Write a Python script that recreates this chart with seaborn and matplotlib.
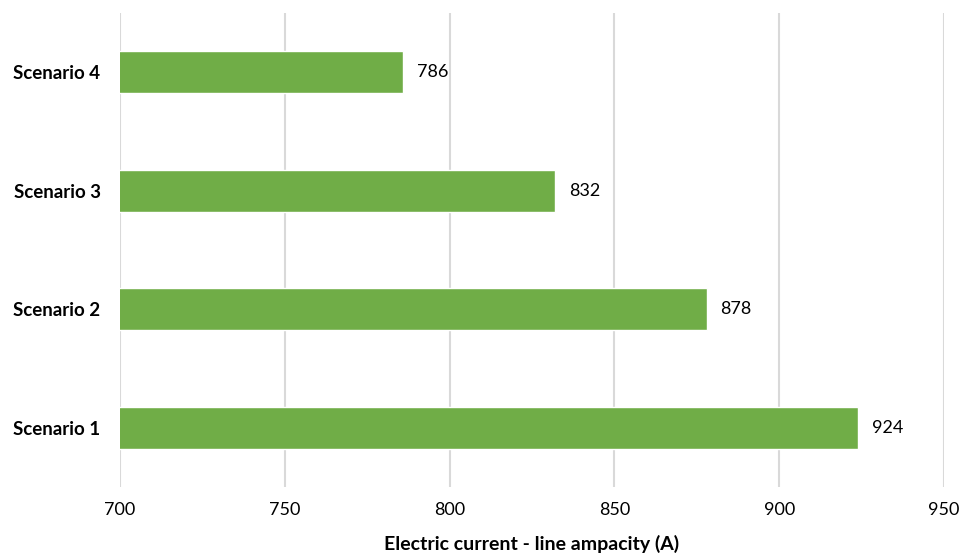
import matplotlib
matplotlib.use("Agg")
import matplotlib.pyplot as plt
import seaborn as sns
import pandas as pd

scenarios = ["Scenario 4", "Scenario 3", "Scenario 2", "Scenario 1"]
ampacity = [786, 832, 878, 924]
x_ticks = [700, 750, 800, 850, 900, 950]

sns.set_theme(style="white")
plt.rcParams["font.family"] = ["Lato", "DejaVu Sans"]

df = pd.DataFrame({"scenario": scenarios, "ampacity": ampacity})

fig = plt.figure(figsize=(9.6, 5.57), dpi=100)
ax = fig.add_axes([0.125, 0.1257, 0.8583, 0.851])

sns.barplot(data=df, x="ampacity", y="scenario", order=scenarios,
            orient="h", color="#70AD47", saturation=1, width=0.355, ax=ax,
            zorder=3)

ax.set_xlim(700, 950)
ax.set_xticks(x_ticks)
ax.set_xticklabels([str(t) for t in x_ticks], fontsize=13, color="#000000")
ax.grid(axis="x", color="#D9D9D9", linewidth=1.5, zorder=0)
ax.set_axisbelow(True)
for s in ax.spines.values():
    s.set_visible(False)
ax.tick_params(axis="x", length=0, pad=11)
ax.tick_params(axis="y", length=0, pad=14)
for lbl in ax.get_yticklabels():
    lbl.set_fontweight("bold")
    lbl.set_fontsize(13.5)
    lbl.set_color("#000000")

ax.set_ylabel("")
ax.set_xlabel("Electric current - line ampacity (A)", fontsize=14,
              fontweight="bold", color="#000000", labelpad=12)

for container in ax.containers:
    ax.bar_label(container, labels=[str(v) for v in ampacity], padding=10,
                 fontsize=13, color="#000000")

fig.savefig("out.png", dpi=100)
